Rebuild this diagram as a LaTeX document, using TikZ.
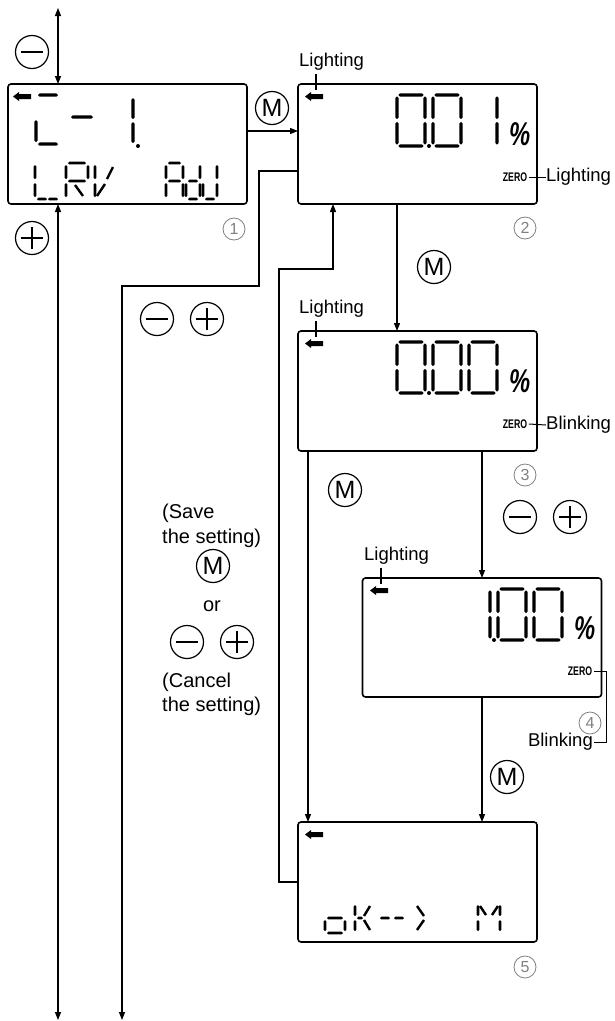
\documentclass[tikz,border=0pt]{standalone}
\usepackage{fontspec}
\setmainfont{Liberation Sans}
\usepackage{graphicx}
\usetikzlibrary{arrows.meta,calc}
\definecolor{numgray}{rgb}{0.5,0.5,0.5}

\newcommand\segT{1.5}
\newcommand\hseg[3]{\fill (#1,#3) -- ({#1+\segT},{#3-\segT}) -- ({#2-\segT},{#3-\segT}) -- (#2,#3) -- ({#2-\segT},{#3+\segT}) -- ({#1+\segT},{#3+\segT}) -- cycle;}
\newcommand\vseg[3]{\fill (#1,#2) -- ({#1+\segT},{#2+\segT}) -- ({#1+\segT},{#3-\segT}) -- (#1,#3) -- ({#1-\segT},{#3-\segT}) -- ({#1-\segT},{#2+\segT}) -- cycle;}

\newcommand\DgW{28}
\newcommand\DgH{51}
\newcommand\dgap{1.3}
\newcommand\dsega{\hseg{\dxa}{\dxb}{\dyt}}
\newcommand\dsegb{\vseg{\dxr}{\dyta}{\dymu}}
\newcommand\dsegc{\vseg{\dxr}{\dymd}{\dybb}}
\newcommand\dsegd{\hseg{\dxa}{\dxb}{\dyb}}
\newcommand\dsege{\vseg{\dxl}{\dymd}{\dybb}}
\newcommand\dsegf{\vseg{\dxl}{\dyta}{\dymu}}
\newcommand\dsegg{\hseg{\dxa}{\dxb}{\dym}}
\newcommand\bigdigit[3]{%
  \pgfmathsetmacro\dxl{#1}\pgfmathsetmacro\dxa{#1+\dgap}%
  \pgfmathsetmacro\dxb{#1+\DgW-\dgap}\pgfmathsetmacro\dxr{#1+\DgW}%
  \pgfmathsetmacro\dyt{#2}\pgfmathsetmacro\dym{#2+\DgH/2}\pgfmathsetmacro\dyb{#2+\DgH}%
  \pgfmathsetmacro\dyta{#2+\dgap}\pgfmathsetmacro\dymu{#2+\DgH/2-\dgap}%
  \pgfmathsetmacro\dymd{#2+\DgH/2+\dgap}\pgfmathsetmacro\dybb{#2+\DgH-\dgap}%
  \foreach \s in {#3}{\csname dseg\s\endcsname}}

\newcommand\lcdarrow{\fill (7,12.5) -- (13,8) -- (13,10) -- (25,10) -- (25,15) -- (13,15) -- (13,17) -- cycle;}

\newcommand\lcdstd[4]{%
\begin{scope}[shift={(#1,#2)}]
  \lcdarrow
  \node[lighttext, anchor=west] (light#3) at (1,-22) {Lighting};
  \draw[conn] (18,-10) -- (18,6);
  \renewcommand\segT{1.6}
  #4
  \fill (131,62) circle (2);
  \node[pct, anchor=base west] (pct#3) at (211,61) {\scalebox{0.72}[1]{\%}};
  \node[zerotext] (zero#3) at (217,93) {\scalebox{0.7}[1]{ZERO}};
\end{scope}}

\begin{document}
\begin{tikzpicture}[x=1pt,y=-1pt,
  conn/.style={line width=1.2pt},
  arr/.style={conn,-{Triangle[length=8pt,width=6pt]}},
  arrboth/.style={conn,{Triangle[length=8pt,width=6pt]}-{Triangle[length=8pt,width=6pt]}},
  lcd/.style={draw, line width=1.6pt, rounded corners=3pt, minimum width=239pt, minimum height=120pt, inner sep=0pt, outer sep=0pt},
  btn/.style={circle, draw, line width=1.2pt, minimum size=33pt, inner sep=0pt},
  btnminus/.style={btn, path picture={\draw[line width=1.2pt] ([xshift=-11pt]path picture bounding box.center) -- ([xshift=11pt]path picture bounding box.center);}},
  btnplus/.style={btn, path picture={\draw[line width=1.2pt] ([xshift=-11pt]path picture bounding box.center) -- ([xshift=11pt]path picture bounding box.center) ([yshift=-11pt]path picture bounding box.center) -- ([yshift=11pt]path picture bounding box.center);}},
  btnM/.style={btn, font=\fontsize{25}{25}\selectfont},
  numc/.style={circle, draw=numgray, text=numgray, line width=0.8pt, minimum size=22pt, inner sep=0pt, font=\fontsize{16}{16}\selectfont},
  lighttext/.style={inner sep=0pt, font=\fontsize{18.5}{22}\selectfont},
  notetext/.style={inner sep=0pt, anchor=west, font=\fontsize{20}{24}\selectfont},
  pct/.style={inner sep=0pt, font=\fontsize{33}{33}\selectfont\bfseries\itshape},
  zerotext/.style={inner sep=1.5pt, font=\fontsize{12.5}{12.5}\selectfont\bfseries}]
\useasboundingbox (0,0) rectangle (614,1021);

% displays
\node[lcd] (b1) at (127.5,144) {};
\node[lcd] (b2) at (417.5,144) {};
\node[lcd] (b3) at (417.5,391) {};
\node[lcd, minimum height=119pt] (b4) at (482,637.5) {};
\node[lcd] (b5) at (417.5,882) {};

% display 1 contents
\begin{scope}[shift={(6,84)}] \lcdarrow \end{scope}
\renewcommand\segT{1.7}
\hseg{38}{58}{95}
\vseg{36}{120}{142}
\hseg{38}{58}{144}
\hseg{71}{93}{117}
\vseg{133}{98}{119}
\vseg{133}{122}{143}
\fill (138,146) circle (2);
\renewcommand\segT{1.3}
% L
\vseg{35}{165}{179} \vseg{35}{183}{197} \hseg{37}{47}{199} \hseg{48}{58}{199}
% R
\vseg{66}{165}{179} \vseg{66}{183}{197} \hseg{68}{86}{163} \vseg{88}{165}{179} \hseg{68}{86}{181}
\draw[line width=2.4pt] (75,185) -- (83,196);
% V
\vseg{95}{165}{179} \vseg{95}{183}{197}
\draw[line width=2.4pt] (97,196) -- (105,184);
\draw[line width=2.4pt] (107,179) -- (113,167);
% A
\hseg{168}{181}{163} \vseg{166}{165}{179} \vseg{166}{183}{197} \vseg{183}{165}{179} \vseg{183}{183}{197} \hseg{168}{181}{181}
% d
\vseg{200}{165}{179} \vseg{200}{183}{197} \vseg{186}{183}{197} \hseg{188}{198}{199} \hseg{188}{198}{181}
% J
\vseg{217}{165}{179} \vseg{217}{183}{197} \hseg{205}{215}{199} \vseg{203}{183}{197}

% displays 2-4
\lcdstd{298}{84}{2}{\bigdigit{99}{11}{a,b,c,d,e,f}\bigdigit{135}{11}{a,b,c,d,e,f}\bigdigit{171}{11}{b,c}}
\lcdstd{298}{331}{3}{\bigdigit{99}{11}{a,b,c,d,e,f}\bigdigit{135}{11}{a,b,c,d,e,f}\bigdigit{171}{11}{a,b,c,d,e,f}}
\lcdstd{363}{578}{4}{\bigdigit{99}{11}{b,c}\bigdigit{135}{11}{a,b,c,d,e,f}\bigdigit{171}{11}{a,b,c,d,e,f}}

% display 5 contents
\begin{scope}[shift={(298,822)}] \lcdarrow \end{scope}
\renewcommand\segT{1.3}
% o
\hseg{327}{343}{918} \vseg{345}{920}{931} \hseg{327}{343}{933} \vseg{325}{920}{931}
% k
\vseg{355}{905}{916} \vseg{355}{920}{931} \hseg{357}{363}{918}
\draw[line width=2.4pt] (364,916) -- (370,906);
\draw[line width=2.4pt] (364,920) -- (370,930);
% - - >
\hseg{380}{390}{918} \hseg{394}{404}{918}
\draw[line width=2.4pt] (417,906) -- (424,916);
\draw[line width=2.4pt] (424,920) -- (417,930);
% M
\vseg{478}{905}{916} \vseg{478}{920}{931} \vseg{500}{905}{916} \vseg{500}{920}{931}
\draw[line width=2.4pt] (480,906) -- (486,915);
\draw[line width=2.4pt] (498,906) -- (492,915);

% side labels for ZERO
\node[lighttext, anchor=west] (lab2) at (546,177) {Lighting};
\draw[conn, line width=1pt] (zero2.east) -- (lab2.west);
\node[lighttext, anchor=west] (lab3) at (546,425) {Blinking};
\draw[conn, line width=1pt] (zero3.east) -- (lab3.west);
\node[lighttext, anchor=east] (lab4) at (593,742) {Blinking};
\draw[conn, line width=1pt] (zero4.east) -- ++(13,0) |- ([xshift=1pt]lab4.east);

% connectors
\coordinate (c1top) at (58,8);
\coordinate (c1bot) at (58,1020);
\draw[arrboth] (c1top) -- (c1top |- b1.north);
\draw[arrboth] (c1bot) -- (c1bot |- b1.south);
\coordinate (y131) at (0,131);
\draw[arr] (b1.east |- y131) -- (b2.west |- y131);
\coordinate (r1) at (259,171);
\coordinate (r2) at (122,286);
\coordinate (rend) at (122,1020);
\draw[arr] (b2.west |- r1) -- (r1) |- (r2) -- (rend);
\coordinate (x397) at (397,0);
\draw[arr] (b2.south -| x397) -- (b3.north -| x397);
\coordinate (x308) at (308,0);
\draw[arr] (b3.south -| x308) -- (b5.north -| x308);
\coordinate (x482) at (482,0);
\draw[arr] (b3.south -| x482) -- (b4.north -| x482);
\draw[arr] (b4.south -| x482) -- (b5.north -| x482);
\coordinate (k1) at (279,882);
\coordinate (k2) at (333,269);
\draw[arr] (b5.west |- k1) -- (k1) |- (k2) -- (k2 |- b2.south);

% buttons
\node[btnminus] (bm1) at (32,52) {};
\node[btnplus] (bp1) at (32,238) {};
\node[btnM] (m1) at (272,108) {M};
\node[btnminus] (bm2) at (157,319) {};
\node[btnplus] (bp2) at (207,319) {};
\node[btnM] (m2) at (434,267) {M};
\node[btnM] (m3) at (345,490) {M};
\node[btnminus] (bm3) at (520,517) {};
\node[btnplus] (bp3) at (570,517) {};
\node[btnM] (m4) at (507,777) {M};

% notes
\node[notetext] (save1) at (162,513) {(Save};
\node[notetext] (save2) at (162,538) {the setting)};
\node[btnM] (m5) at (213,566) {M};
\node[inner sep=0pt, font=\fontsize{20}{24}\selectfont] (orl) at (212,606) {or};
\node[btnminus] (bm4) at (187,642) {};
\node[btnplus] (bp4) at (237,642) {};
\node[notetext] (cancel1) at (162,682) {(Cancel};
\node[notetext] (cancel2) at (162,706) {the setting)};

% step numbers
\node[numc] (n1) at (234,229) {1};
\node[numc] (n2) at (525,228) {2};
\node[numc] (n3) at (525,475) {3};
\node[numc] (n4) at (590,723) {4};
\node[numc] (n5) at (525,967) {5};
\end{tikzpicture}
\end{document}
